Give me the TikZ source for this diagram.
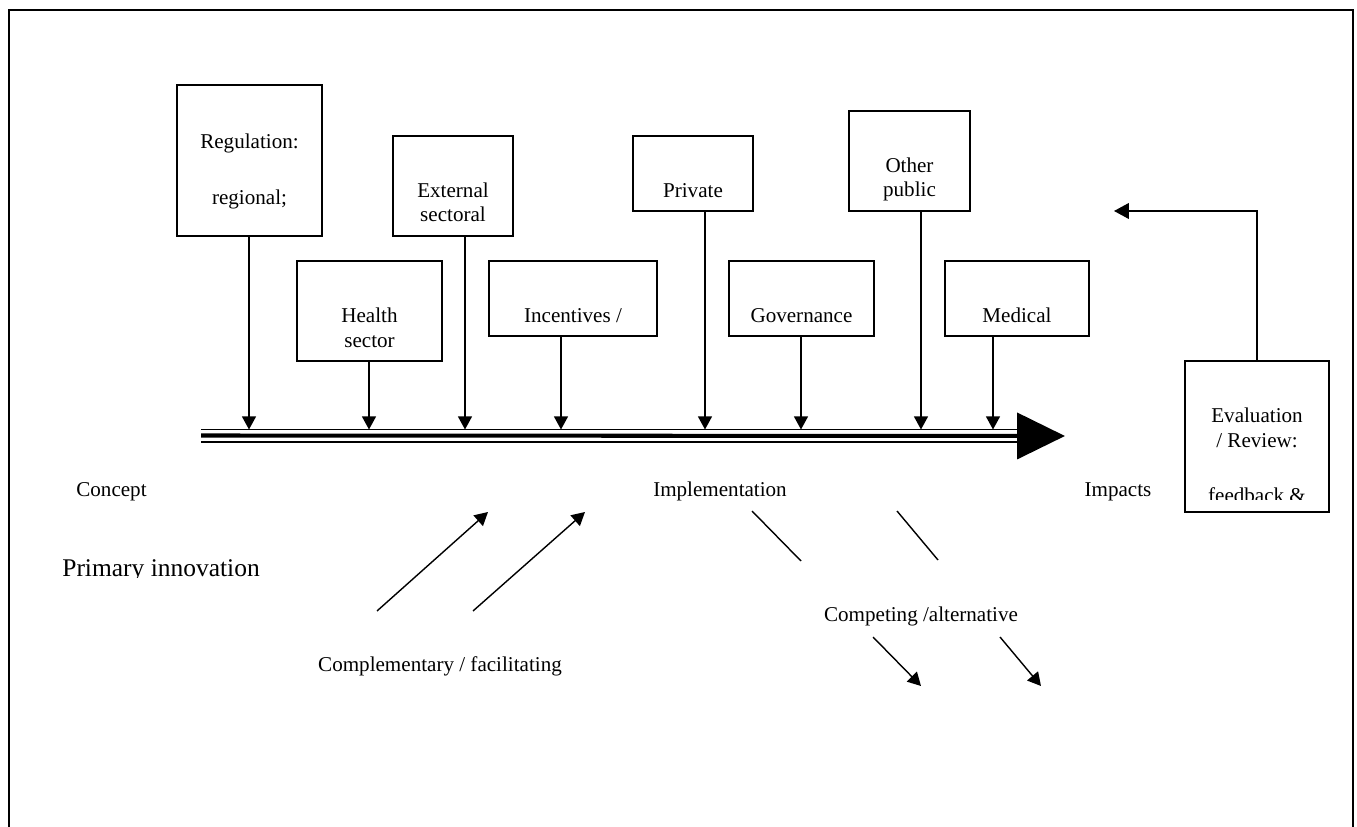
\documentclass[tikz,border=0pt]{standalone}
\usepackage{fontspec}
\setmainfont{Liberation Serif}
\usepackage{tikz}
\usetikzlibrary{arrows.meta}

\tikzset{
  box/.style={draw, line width=0.9pt, inner sep=0pt},
  txt/.style={anchor=base, inner sep=0pt, font=\fontsize{12}{14}\selectfont},
  feed/.style={line width=0.8pt, -{Triangle[length=7.5pt,width=8pt]}},
}

\begin{document}
\begin{tikzpicture}[x=0.02cm,y=-0.02cm]
		\useasboundingbox (0,0) rectangle (1357,827);
		% frame
		\draw[line width=1.1pt] (9,830) -- (9,10) -- (1353,10) -- (1353,830);
		% boxes
		\path (249.5,160.5) node(reg)[box, minimum width=2.9cm, minimum height=3.02cm]{}
		(453,186) node(ext)[box, minimum width=2.4cm, minimum height=2cm]{}
		(369.5,311) node(health)[box, minimum width=2.9cm, minimum height=2cm]{}
		(573,298.5) node(inc)[box, minimum width=3.36cm, minimum height=1.5cm]{}
		(693,173.5) node(priv)[box, minimum width=2.4cm, minimum height=1.5cm]{}
		(801.5,298.5) node(gov)[box, minimum width=2.9cm, minimum height=1.5cm]{}
		(909.5,161) node(other)[box, minimum width=2.42cm, minimum height=2cm]{}
		(1017,298.5) node(med)[box, minimum width=2.88cm, minimum height=1.5cm]{}
		(1257,436.5) node(eval)[box, minimum width=2.88cm, minimum height=3.02cm]{};
		% box texts
		\node[txt] (reg-a) at (249.5,149) {Regulation:};
		\node[txt] (reg-b) at (249.5,205) {regional;};
		\node[txt] (ext-a) at (453,198) {External};
		\node[txt] (ext-b) at (453,222) {sectoral};
		\node[txt] (health-a) at (369.5,323) {Health};
		\node[txt] (health-b) at (369.5,348) {sector};
		\node[txt] (inc-a) at (573,323) {Incentives /};
		\node[txt] (priv-a) at (693,198) {Private};
		\node[txt] (gov-a) at (801.5,323) {Governance};
		\node[txt] (other-a) at (909.5,173) {Other};
		\node[txt] (other-b) at (909.5,197) {public};
		\node[txt] (med-a) at (1017,323) {Medical};
		\node[txt] (eval-a) at (1257,423) {Evaluation};
		\node[txt] (eval-b) at (1257,448) {/ Review:};
		\begin{scope}
			\clip (1187,363) rectangle (1327,500);
			\node[txt] (eval-c) at (1257,503) {feedback \&};
		\end{scope}
		% main axis
		\coordinate (axtop) at (201,429.5);
		\coordinate (axmid) at (201,435.5);
		\coordinate (axbot) at (201,442);
		\coordinate (axend) at (1017,436);
		\coordinate (impact) at (1065,436);
		\draw[line width=0.7pt] (axtop) -- (axtop -| axend);
		\draw[line width=1.3pt] (axbot) -- (axbot -| axend);
		\draw[line width=2.3pt, -{Triangle[length=0.96cm,width=0.92cm]}] (axmid) -- (impact);
		% influences onto the axis
		\draw[feed] (249,0 |- reg.south) -- (249,0 |- axtop);
		\draw[feed] (369,0 |- health.south) -- (369,0 |- axtop);
		\draw[feed] (465,0 |- ext.south) -- (465,0 |- axtop);
		\draw[feed] (561,0 |- inc.south) -- (561,0 |- axtop);
		\draw[feed] (705,0 |- priv.south) -- (705,0 |- axtop);
		\draw[feed] (801,0 |- gov.south) -- (801,0 |- axtop);
		\draw[feed] (921,0 |- other.south) -- (921,0 |- axtop);
		\draw[feed] (993,0 |- med.south) -- (993,0 |- axtop);
		% feedback loop
		\coordinate (fb) at (1114,211);
		\draw[feed, -{Triangle[length=8.5pt,width=9pt]}] (eval.north) |- (fb);
		% stage labels
		\node[txt] (concept) at (111.5,497) {Concept};
		\node[txt] (impl) at (720,497) {Implementation};
		\node[txt] (impacts) at (1118,497) {Impacts};
		\begin{scope}
			\clip (40,540) rectangle (300,578);
			\node[txt, anchor=base west, font=\fontsize{14.5}{17}\selectfont] (prim) at (62,577) {Primary innovation};
		\end{scope}
		% complementary
		\path (377,611) coordinate(c1s) (488,512) coordinate(c1e)
		(473,611) coordinate(c2s) (585,512) coordinate(c2e);
		\draw[feed] (c1s) -- (c1e);
		\draw[feed] (c2s) -- (c2e);
		\node[txt] (compl) at (440,672) {Complementary / facilitating};
		% competing
		\path (752,511) coordinate(k1s) (801,561) coordinate(k1e)
		(897,511) coordinate(k2s) (938,560) coordinate(k2e)
		(873,637) coordinate(k3s) (921,686) coordinate(k3e)
		(1000,637) coordinate(k4s) (1041,686) coordinate(k4e);
		\draw[line width=0.8pt] (k1s) -- (k1e);
		\draw[line width=0.8pt] (k2s) -- (k2e);
		\draw[feed] (k3s) -- (k3e);
		\draw[feed] (k4s) -- (k4e);
		\node[txt] (compet) at (921,622) {Competing /alternative};
	\end{tikzpicture}
\end{document}
